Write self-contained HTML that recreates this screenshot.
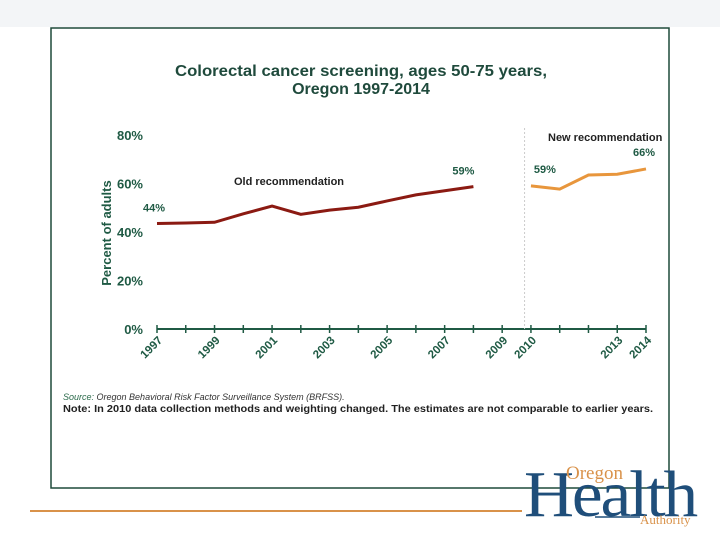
<!DOCTYPE html>
<html><head><meta charset="utf-8"><style>
body{margin:0;width:720px;height:540px;background:#fff;position:relative;overflow:hidden;font-family:"Liberation Sans",sans-serif}
</style></head><body>
<div style="position:absolute;left:0;top:0;width:720px;height:27px;background:#f3f5f7"></div>
<svg width="720" height="540" style="position:absolute;left:0;top:0">
<rect x="51" y="28" width="618" height="460" fill="none" stroke="#1e4a3a" stroke-width="1.5"/>
<text x="361" y="76" text-anchor="middle" font-size="16" font-weight="bold" fill="#1f4a3c" textLength="372" lengthAdjust="spacingAndGlyphs">Colorectal cancer screening, ages 50-75 years,</text>
<text x="361" y="94" text-anchor="middle" font-size="16" font-weight="bold" fill="#1f4a3c">Oregon 1997-2014</text>
<text transform="translate(111,233) rotate(-90)" text-anchor="middle" font-size="13" font-weight="bold" fill="#1f5a44">Percent of adults</text>
<g id="axes"></g><g id="marks"></g>
<text x="234" y="185" font-size="11" font-weight="bold" fill="#222">Old recommendation</text>
<text x="548" y="141" font-size="11" font-weight="bold" fill="#222">New recommendation</text>
<text x="63" y="400" font-size="9" font-style="italic" fill="#333"><tspan fill="#2a6a4a">Source:</tspan> Oregon Behavioral Risk Factor Surveillance System (BRFSS).</text>
<text x="63" y="412" font-size="10" font-weight="bold" fill="#222" textLength="590" lengthAdjust="spacingAndGlyphs">Note: In 2010 data collection methods and weighting changed. The estimates are not comparable to earlier years.</text>
<line x1="30" y1="511" x2="522" y2="511" stroke="#d9924a" stroke-width="2"/>
<g>
<text x="524" y="516" font-family="Liberation Serif,serif" font-size="66" fill="#1f4e7a" letter-spacing="-2" textLength="172" lengthAdjust="spacingAndGlyphs">Health</text>
<rect x="560" y="458" width="40" height="12" fill="#fff"/>
<text x="566" y="479" font-family="Liberation Serif,serif" font-size="19" fill="#d9924a">Oregon</text>
<line x1="595" y1="517" x2="640" y2="517" stroke="#1f4e7a" stroke-width="1.5"/>
<text x="640" y="524" font-family="Liberation Serif,serif" font-size="13" fill="#d9924a">Authority</text>
</g>
</svg>
<script>
const oldYears=[1997,1998,1999,2000,2001,2002,2003,2004,2005,2006,2007,2008];
const oldValues=[43.5,43.7,44,47.5,50.7,47.3,49,50.2,52.8,55.3,57,58.7];
const newYears=[2010,2011,2012,2013,2014];
const newValues=[59,57.7,63.5,63.8,66];
const yTicks=[0,20,40,60,80];
const xTickLabels=[1997,1999,2001,2003,2005,2007,2009,2010,2013,2014];
const pointLabels=[{year:1997,v:43.5,t:"44%",dx:-3,dy:-12},{year:2008,v:58.7,t:"59%",dx:-10,dy:-12},{year:2010,v:59,t:"59%",dx:14,dy:-13},{year:2014,v:66,t:"66%",dx:-2,dy:-13}];
const X=y=>157+(y-1997)*(646-157)/17, Y=v=>329-v*(329-135)/80;
const NS="http://www.w3.org/2000/svg";
function mk(p,tag,a){const e=document.createElementNS(NS,tag);for(const k in a)e.setAttribute(k,a[k]);p.appendChild(e);return e;}
const ax=document.getElementById('axes'),mg=document.getElementById('marks');
for(const t of yTicks){const e=mk(ax,'text',{x:143,y:Y(t)+5,'text-anchor':'end','font-size':13,'font-weight':'bold',fill:'#1f5a44'});e.textContent=t+'%';

}
const base=mk(ax,'line',{x1:157,y1:329,x2:646,y2:329,stroke:'#1f5a44','stroke-width':2});


for(let y=1997;y<=2014;y++){const l=mk(ax,'line',{x1:X(y),y1:325,x2:X(y),y2:333,stroke:'#1f5a44','stroke-width':1.5});

}
for(const y of xTickLabels){const e=mk(ax,'text',{x:0,y:0,transform:`translate(${X(y)+6},${341}) rotate(-45)`,'text-anchor':'end','font-size':11.5,'font-weight':'bold',fill:'#1f5a44'});e.textContent=y;

}
const dv=mk(ax,'line',{x1:(X(2009)+X(2010))/2+8,y1:128,x2:(X(2009)+X(2010))/2+8,y2:329,stroke:'#ccc','stroke-dasharray':'2,2'});


const p1=mk(mg,'polyline',{points:oldYears.map((y,i)=>X(y)+','+Y(oldValues[i])).join(' '),fill:'none',stroke:'#8b1a12','stroke-width':3});


const p2=mk(mg,'polyline',{points:newYears.map((y,i)=>X(y)+','+Y(newValues[i])).join(' '),fill:'none',stroke:'#e8963c','stroke-width':3});


for(const p of pointLabels){const e=mk(mg,'text',{x:X(p.year)+p.dx,y:Y(p.v)+p.dy,'text-anchor':'middle','font-size':11,'font-weight':'bold',fill:'#1f5a44'});e.textContent=p.t;

}
</script>
</body></html>
